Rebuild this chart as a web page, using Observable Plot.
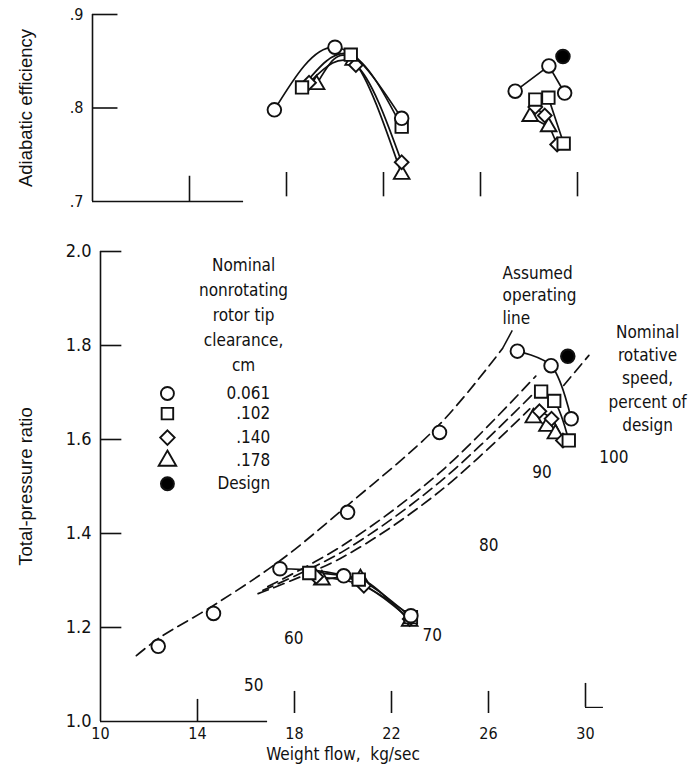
<!DOCTYPE html>
<html><head><meta charset="utf-8">
<script src="https://cdn.jsdelivr.net/npm/d3@7"></script>
<script src="https://cdn.jsdelivr.net/npm/@observablehq/plot@0.6"></script>
<style>
html,body{margin:0;padding:0;background:#fff;overflow:hidden}
#chart svg{display:block}
</style></head><body><div id="chart"></div>
<script>
// ---------- data ----------
const xTicks = [10, 14, 18, 22, 26, 30];
const xTickLabels = ["10", "14", "18", "22", "26", "30"];
const effTicks = [0.7, 0.8, 0.9];
const effTickLabels = [".7", ".8", ".9"];
const prTicks = [1.0, 1.2, 1.4, 1.6, 1.8, 2.0];
const prTickLabels = ["1.0", "1.2", "1.4", "1.6", "1.8", "2.0"];

// adiabatic efficiency, 70 % speed, per clearance [flow, eff]
const eff70_c061 = [[17.5, 0.798], [20.0, 0.865], [22.75, 0.789]];
const eff70_c102 = [[18.64, 0.822], [20.65, 0.857], [22.75, 0.780]];
const eff70_c140 = [[18.93, 0.827], [20.86, 0.846], [22.75, 0.742]];
const eff70_c178 = [[19.24, 0.825], [20.75, 0.851], [22.75, 0.729]];
// adiabatic efficiency, 100 % speed
const eff100_c061 = [[27.43, 0.818], [28.82, 0.845], [29.47, 0.816]];
const eff100_c102 = [[28.26, 0.809], [28.80, 0.811], [29.43, 0.762]];
const eff100_c140 = [[28.26, 0.801], [28.65, 0.792], [29.16, 0.761]];
const eff100_c178 = [[28.05, 0.791], [28.81, 0.780]];
const effDesign = [[29.40, 0.855]];

// total-pressure ratio, 70 % speed
const pr70_c061 = [[17.40, 1.325], [20.03, 1.310], [22.80, 1.225]];
const pr70_c102 = [[18.61, 1.316], [20.65, 1.302], [22.80, 1.222]];
const pr70_c140 = [[18.90, 1.308], [20.86, 1.289], [22.75, 1.218]];
const pr70_c178 = [[19.13, 1.301], [20.72, 1.304], [22.75, 1.213]];
// total-pressure ratio, 100 % speed
const pr100_c061 = [[27.19, 1.788], [28.58, 1.757], [29.41, 1.644]];
const pr100_c102 = [[28.17, 1.702], [28.71, 1.682], [29.31, 1.598]];
const pr100_c140 = [[28.10, 1.660], [28.60, 1.644], [29.07, 1.598]];
const pr100_c178 = [[27.85, 1.646], [28.41, 1.628], [28.76, 1.612]];
const prDesign = [[29.27, 1.777]];
// 0.061 cm points at 50, 60, 80, 90 % speed
const prOp_c061 = [[12.38, 1.160], [14.66, 1.230], [20.19, 1.445], [23.98, 1.615]];

// assumed operating lines (dashed)
const opLine_c061 = [[11.48, 1.140], [12.4, 1.177], [14.66, 1.247], [17.4, 1.342], [20.19, 1.460], [23.98, 1.632], [26.57, 1.793]];
const opLine_c102 = [[16.9, 1.287], [20.0, 1.375], [24.0, 1.530], [27.95, 1.735]];
const opLine_c140 = [[16.7, 1.279], [20.0, 1.362], [24.0, 1.510], [27.9, 1.700]];
const opLine_c178 = [[16.5, 1.272], [20.0, 1.350], [24.0, 1.490], [27.7, 1.665]];
const opLineDesign = [[29.10, 1.715], [30.14, 1.779]];

// speed labels
const speedLabels = ["50", "60", "70", "80", "90", "100"];
const speedLabelX = [16.32, 17.97, 23.68, 26.01, 28.21, 31.17];
const speedLabelY = [1.077, 1.176, 1.183, 1.374, 1.530, 1.562];

// legend
const legendLabels = ["0.061", ".102", ".140", ".178", "Design"];
const legendSymbols = ["circle", "square", "diamond2", "triangle", "circle"];
const legendFills = ["white", "white", "white", "white", "black"];
const legendY = [1.698, 1.655, 1.604, 1.555, 1.506];
const legendSymX = 12.76;
const legendTextX = 17.0;
const legendTitle = "Nominal\nnonrotating\nrotor tip\nclearance,\ncm";
const legendTitleXY = [15.9, 1.870];
const opNote = "Assumed\noperating\nline";
const opNoteXY = [26.58, 1.9096];
const opLeader = [[26.98, 1.832, 26.57, 1.793]];
const speedNote = "Nominal\nrotative\nspeed,\npercent of\ndesign";
const speedNoteXY = [32.56, 1.733];

const topAxisEnd = 16.23;
const botAxisEnd = 16.89;

// ---------- style ----------
const INK = "#111";
const LETTER = "'DejaVu Sans Condensed','Liberation Sans Narrow','DejaVu Sans',sans-serif";
const HELV = "'Liberation Sans',Arial,Helvetica,sans-serif";
const SYM = {circle: 6.8, square: 7.0, diamond2: 6.2, triangle: 5.8};

const X = d => d[0], Y = d => d[1];
function curveMarks(pts, curve) {
  return Plot.line(pts, {x: X, y: Y, curve, stroke: INK, strokeWidth: 1.7});
}
function dotMarks(pts, sym, fill = "white") {
  return Plot.dot(pts, {x: X, y: Y, symbol: sym, r: SYM[sym], fill, stroke: INK, strokeWidth: 1.9});
}
function dashed(pts) {
  return Plot.line(pts, {x: X, y: Y, curve: "catmull-rom", stroke: INK, strokeWidth: 1.7, strokeDasharray: "11,6"});
}

// ---------- top panel ----------
const topPlot = Plot.plot({
  width: 695, height: 215,
  marginLeft: 92, marginRight: 118, marginTop: 14, marginBottom: 14,
  style: {fontFamily: LETTER, fontSize: "16px", color: INK, background: "white", overflow: "visible"},
  x: {domain: [10, 30], axis: null},
  y: {domain: [0.7, 0.9]},
  marks: [
    Plot.axisY({ticks: effTicks, tickSize: 0, tickPadding: 9, fontSize: 16, label: null,
      tickFormat: d => effTickLabels[effTicks.indexOf(d)]}),
    Plot.ruleX([10], {y1: 0.7, y2: 0.9, stroke: INK, strokeWidth: 1.6}),
    Plot.ruleY([0.7], {x1: 10, x2: topAxisEnd, stroke: INK, strokeWidth: 1.6}),
    Plot.ruleY(effTicks.slice(1), {x1: 10, x2: 11.05, stroke: INK, strokeWidth: 1.6}),
    Plot.ruleX(xTicks.slice(1), {y1: d => d === 14 ? 0.7 : 0.705, y2: d => d === 14 ? 0.727 : 0.731, stroke: INK, strokeWidth: 1.6}),
    Plot.text(["Adiabatic efficiency"], {frameAnchor: "left", dx: -66, rotate: -90, text: d => d,
      textAnchor: "middle", lineAnchor: "middle", fontFamily: HELV, fontSize: 18.5, fill: INK}),
    curveMarks(eff70_c061, "natural"), curveMarks(eff70_c102, "natural"),
    curveMarks(eff70_c140, "natural"), curveMarks(eff70_c178, "natural"),
    curveMarks(eff100_c061, "linear"), curveMarks(eff100_c102, "linear"),
    curveMarks(eff100_c140, "linear"), curveMarks(eff100_c178, "linear"),
    dotMarks(eff70_c178, "triangle"), dotMarks(eff100_c178, "triangle"),
    dotMarks(eff70_c140, "diamond2"), dotMarks(eff100_c140, "diamond2"),
    dotMarks(eff70_c102, "square"), dotMarks(eff100_c102, "square"),
    dotMarks(eff70_c061, "circle"), dotMarks(eff100_c061, "circle"),
    dotMarks(effDesign, "circle", "black")
  ]
});

// ---------- bottom panel ----------
const botPlot = Plot.plot({
  width: 695, height: 558,
  marginLeft: 100, marginRight: 110, marginTop: 36, marginBottom: 52,
  style: {fontFamily: LETTER, fontSize: "17px", color: INK, background: "white", overflow: "visible"},
  x: {domain: [10, 30]},
  y: {domain: [1.0, 2.0]},
  marks: [
    Plot.axisY({ticks: prTicks, tickSize: 0, tickPadding: 9, fontSize: 18, label: null,
      tickFormat: d => prTickLabels[prTicks.indexOf(d)]}),
    Plot.axisX({ticks: xTicks, tickSize: 0, tickPadding: 6, fontSize: 16, label: null,
      tickFormat: d => xTickLabels[xTicks.indexOf(d)]}),
    Plot.ruleX([10], {y1: 1.0, y2: 2.0, stroke: INK, strokeWidth: 1.6}),
    Plot.ruleY([1.0], {x1: 10, x2: botAxisEnd, stroke: INK, strokeWidth: 1.6}),
    Plot.ruleY(prTicks.slice(1), {x1: 10, x2: 10.88, stroke: INK, strokeWidth: 1.6}),
    Plot.ruleX(xTicks.slice(1), {y1: d => d === 14 ? 1.0 : d === 30 ? 1.03 : 1.017,
      y2: d => d === 14 ? 1.047 : d === 30 ? 1.081 : 1.064, stroke: INK, strokeWidth: 1.6}),
    Plot.ruleY([1.03], {x1: 30, x2: 30.74, stroke: INK, strokeWidth: 1.2}),
    Plot.text(["Total-pressure ratio"], {frameAnchor: "left", dx: -74, rotate: -90, text: d => d,
      textAnchor: "middle", lineAnchor: "middle", fontFamily: HELV, fontSize: 18.5, fill: INK}),
    Plot.text(["Weight flow,  kg/sec"], {frameAnchor: "bottom", dy: 33, text: d => d,
      lineAnchor: "middle", fontFamily: LETTER, fontSize: 17, fill: INK}),
    // dashed operating lines
    dashed(opLine_c061), dashed(opLine_c102), dashed(opLine_c140), dashed(opLine_c178), dashed(opLineDesign),
    Plot.link(opLeader, {x1: d => d[0], y1: d => d[1], x2: d => d[2], y2: d => d[3], stroke: INK, strokeWidth: 1.5}),
    // speed lines
    curveMarks(pr70_c061, "catmull-rom"), curveMarks(pr70_c102, "catmull-rom"),
    curveMarks(pr70_c140, "catmull-rom"), curveMarks(pr70_c178, "catmull-rom"),
    curveMarks(pr100_c061, "catmull-rom"), curveMarks(pr100_c102, "catmull-rom"),
    curveMarks(pr100_c140, "catmull-rom"), curveMarks(pr100_c178, "catmull-rom"),
    dotMarks(pr70_c178, "triangle"), dotMarks(pr100_c178, "triangle"),
    dotMarks(pr70_c140, "diamond2"), dotMarks(pr100_c140, "diamond2"),
    dotMarks(pr70_c102, "square"), dotMarks(pr100_c102, "square"),
    dotMarks(pr70_c061, "circle"), dotMarks(pr100_c061, "circle"), dotMarks(prOp_c061, "circle"),
    dotMarks(prDesign, "circle", "black"),
    // speed labels
    Plot.text(speedLabels, {x: (d, i) => speedLabelX[i], y: (d, i) => speedLabelY[i], text: d => d,
      fontSize: 17, fill: INK}),
    // legend
    Plot.text([legendTitle], {x: legendTitleXY[0], y: legendTitleXY[1], text: d => d, lineHeight: 1.47,
      fontSize: 17, fill: INK}),
    Plot.dot(legendLabels, {x: legendSymX, y: (d, i) => legendY[i], symbol: (d, i) => legendSymbols[i],
      r: 6.5, fill: (d, i) => legendFills[i], stroke: INK, strokeWidth: 1.9}),
    Plot.text(legendLabels, {x: legendTextX, y: (d, i) => legendY[i], text: d => d, textAnchor: "end",
      fontSize: 17, fill: INK}),
    Plot.text([opNote], {x: opNoteXY[0], y: opNoteXY[1], text: d => d, textAnchor: "start", lineHeight: 1.32,
      fontSize: 17, fill: INK}),
    Plot.text([speedNote], {x: speedNoteXY[0], y: speedNoteXY[1], text: d => d, lineHeight: 1.37,
      fontSize: 17, fill: INK})
  ]
});

document.getElementById("chart").append(topPlot, botPlot);
</script></body></html>
